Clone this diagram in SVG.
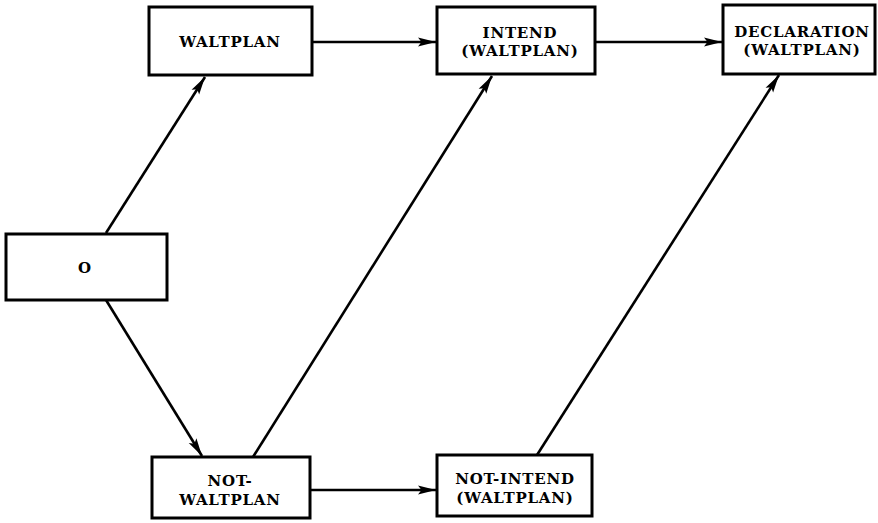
<svg xmlns="http://www.w3.org/2000/svg" width="878" height="523" viewBox="0 0 878 523">
  <style>
    .box { fill: #fff; stroke: #000; stroke-width: 3; }
    .lbl { font-family: "DejaVu Serif", "Liberation Serif", serif; font-weight: bold; font-size: 15px; letter-spacing: 0.8px; text-anchor: middle; fill: #000; }
    .edge { stroke: #000; stroke-width: 2.6; fill: none; marker-end: url(#arrow); }
  </style>
  <defs>
    <marker id="arrow" markerUnits="userSpaceOnUse" markerWidth="19" markerHeight="11" refX="18" refY="5.5" orient="auto">
      <path d="M0,1 L18,5.5 L0,10 L3.5,5.5 Z" fill="#000"/>
    </marker>
  </defs>

  <rect width="878" height="523" fill="#fff"/>

  <g id="connectors">
    <line class="edge" x1="106" y1="233" x2="205" y2="77"/>
    <line class="edge" x1="106" y1="300" x2="202" y2="456"/>
    <line class="edge" x1="312" y1="42" x2="436" y2="42"/>
    <line class="edge" x1="595" y1="42" x2="722" y2="42"/>
    <line class="edge" x1="253" y1="457" x2="492" y2="76"/>
    <line class="edge" x1="310" y1="490" x2="436" y2="490"/>
    <line class="edge" x1="537" y1="455" x2="779" y2="75"/>
  </g>

  <g id="node-o">
    <rect class="box" x="6" y="234" width="161" height="66"/>
    <text class="lbl" x="85" y="273">O</text>
  </g>

  <g id="node-waltplan">
    <rect class="box" x="149" y="7" width="163" height="68"/>
    <text class="lbl" x="230" y="47">WALTPLAN</text>
  </g>

  <g id="node-intend">
    <rect class="box" x="437" y="7" width="158" height="67"/>
    <text class="lbl" x="520" y="38">INTEND</text>
    <text class="lbl" x="520" y="56">(WALTPLAN)</text>
  </g>

  <g id="node-declaration">
    <rect class="box" x="723" y="5" width="152" height="69"/>
    <text class="lbl" x="802" y="37">DECLARATION</text>
    <text class="lbl" x="802" y="55">(WALTPLAN)</text>
  </g>

  <g id="node-not-waltplan">
    <rect class="box" x="152" y="457" width="158" height="61"/>
    <text class="lbl" x="230" y="486">NOT-</text>
    <text class="lbl" x="230" y="505">WALTPLAN</text>
  </g>

  <g id="node-not-intend">
    <rect class="box" x="437" y="455" width="155" height="61"/>
    <text class="lbl" x="515" y="484">NOT-INTEND</text>
    <text class="lbl" x="515" y="503">(WALTPLAN)</text>
  </g>
</svg>
